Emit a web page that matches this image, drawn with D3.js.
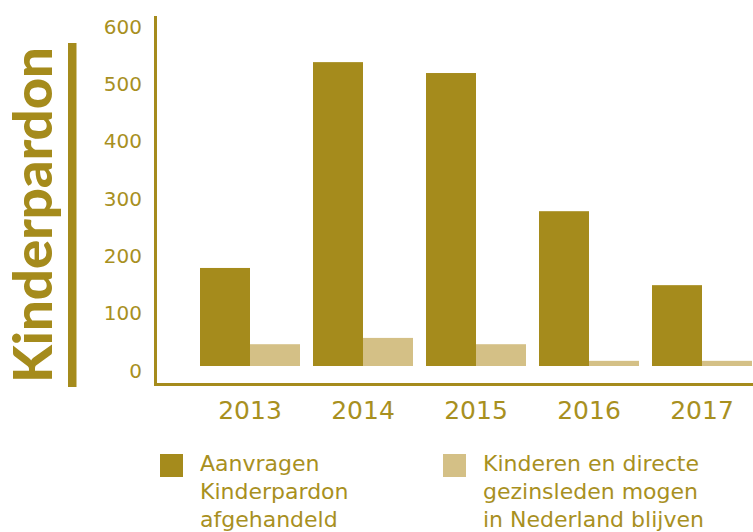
<!DOCTYPE html>
<html>
<head>
<meta charset="utf-8">
<script src="https://cdn.jsdelivr.net/npm/d3@7"></script>
<style>
  html, body { margin: 0; padding: 0; background: #fff; }
  svg { display: block; }
  text { font-family: "DejaVu Sans", sans-serif; fill: #A58B1C; }
</style>
</head>
<body>
<svg id="chart" width="753" height="532"></svg>
<script>
const years = ["2013", "2014", "2015", "2016", "2017"];
const aanvragen = [171, 530, 511, 270, 141];
const blijven = [38, 49, 38, 9, 9];
const yTicks = [0, 100, 200, 300, 400, 500, 600];
const title = "Kinderpardon";
const legendLabels = [
  ["Aanvragen", "Kinderpardon", "afgehandeld"],
  ["Kinderen en directe", "gezinsleden mogen", "in Nederland blijven"]
];
const seriesKeys = ["a", "b"];

const dark = "#A58B1C";
const light = "#D4C086";
const colors = [dark, light];

const svg = d3.select("#chart");

const y = d3.scaleLinear().domain([0, 600]).range([366, 22]);
const x0 = d3.scaleBand().domain(years).range([200, 752]).paddingInner(13 / 113).paddingOuter(0);
const x1 = d3.scaleBand().domain(seriesKeys).range([0, x0.bandwidth()]);

const data = years.map((yr, i) => ({ year: yr, vals: [aanvragen[i], blijven[i]] }));

// bars
const groups = svg.append("g").selectAll("g").data(data).join("g")
  .attr("transform", d => `translate(${x0(d.year)},0)`);
groups.selectAll("rect").data(d => d.vals.map((v, j) => ({ v, k: seriesKeys[j], j })))
  .join("rect")
  .attr("x", d => x1(d.k))
  .attr("width", x1.bandwidth())
  .attr("y", d => y(d.v))
  .attr("height", d => y(0) - y(d.v))
  .attr("fill", d => colors[d.j]);

// axes lines
svg.append("line").attr("x1", 155.5).attr("x2", 155.5).attr("y1", 16).attr("y2", 386)
  .attr("stroke", dark).attr("stroke-width", 3);
svg.append("line").attr("x1", 154).attr("x2", 753).attr("y1", 384.5).attr("y2", 384.5)
  .attr("stroke", dark).attr("stroke-width", 3);

// y tick labels via axis
const yAxis = d3.axisLeft(y).tickValues(yTicks).tickSize(0).tickPadding(0);
const ya = svg.append("g").attr("transform", "translate(142,0)").call(yAxis);
ya.select(".domain").remove();
ya.selectAll("text")
  .attr("dy", null).attr("y", 11)
  .style("font-size", "20px").style("fill", "#A8901F")
  .attr("font-family", "DejaVu Sans");

// x labels
const xAxis = d3.axisBottom(x0).tickSize(0).tickPadding(0);
const xa = svg.append("g").call(xAxis);
xa.select(".domain").remove();
xa.selectAll(".tick text")
  .attr("dy", null).attr("y", 419)
  .style("font-size", "25px").style("fill", "#A8901F")
  .attr("font-family", "DejaVu Sans");

// title
svg.append("text")
  .attr("transform", "translate(52,383) rotate(-90)")
  .attr("text-anchor", "start")
  .attr("textLength", 336)
  .attr("lengthAdjust", "spacingAndGlyphs")
  .style("font-family", "Lato, 'DejaVu Sans', sans-serif")
  .style("font-size", "53px").style("font-weight", "900")
  .text(title);
svg.append("rect").attr("x", 68).attr("y", 43).attr("width", 8.5).attr("height", 344).attr("fill", dark);

// legend
const legX = [160, 443];
legendLabels.forEach((lines, i) => {
  const g = svg.append("g");
  g.append("rect").attr("x", legX[i]).attr("y", 454).attr("width", 23).attr("height", 23).attr("fill", colors[i]);
  const t = g.append("text").attr("x", legX[i] + 40).attr("y", 471).style("font-size", "22px").style("fill", "#A8901F");
  lines.forEach((ln, k) => {
    t.append("tspan").attr("x", legX[i] + 40).attr("y", 471 + k * 28).text(ln);
  });
});
</script>
</body>
</html>
